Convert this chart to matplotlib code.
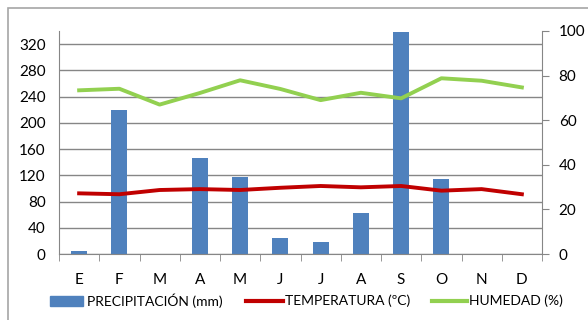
import matplotlib
matplotlib.use("Agg")
import matplotlib.pyplot as plt
from matplotlib.patches import Rectangle
from matplotlib.lines import Line2D
import numpy as np

months = ["E", "F", "M", "A", "M", "J", "J", "A", "S", "O", "N", "D"]
precipitacion = [4, 219, 0, 146, 117, 25, 18, 63, 338, 115, 0, 0]
temperatura = [27.2, 26.8, 28.7, 29.1, 28.7, 29.7, 30.5, 29.9, 30.5, 28.4, 29.1, 26.8]
humedad = [73.4, 74.1, 67.0, 72.2, 77.9, 74.0, 69.0, 72.3, 69.8, 78.8, 77.7, 74.7]
left_ticks = [0, 40, 80, 120, 160, 200, 240, 280, 320]
right_ticks = [0, 20, 40, 60, 80, 100]
labels = ["PRECIPITACIÓN (mm)", "TEMPERATURA (ºC)", "HUMEDAD (%)"]

plt.rcParams["font.family"] = ["Lato", "DejaVu Sans"]
grid_c = "#868686"
bar_c = "#4F81BD"
temp_c = "#C00000"
hum_c = "#92D050"
W, H = 588, 320

fig = plt.figure(figsize=(W / 100, H / 100), dpi=100)
fig.patches.append(Rectangle((8 / W, -0.05), 1.0, 1 - 8 / H + 0.05,
                             transform=fig.transFigure, fill=False,
                             edgecolor="#A6A6A6", linewidth=1.2))

ax = fig.add_axes([59 / W, 1 - 254 / H, (542 - 59) / W, (254 - 31) / H])
x = np.arange(len(months))
ax.bar(x, precipitacion, width=0.4, color=bar_c, zorder=2)
ax.set_xlim(-0.5, 11.5)
ax.set_ylim(0, 340)
ax.set_yticks(left_ticks)
ax.yaxis.grid(True, color=grid_c, linewidth=1.0, zorder=0)
ax.set_axisbelow(True)
ax.set_xticks(x)
ax.set_xticklabels(months)
ax.set_xticks(np.arange(-0.5, 12, 1), minor=True)
ax.tick_params(axis="x", which="major", length=0, pad=14, labelsize=11)
ax.tick_params(axis="x", which="minor", length=5, color=grid_c, direction="out")
ax.tick_params(axis="y", length=0, pad=9.5, labelsize=11)
for s in ["top", "right"]:
    ax.spines[s].set_visible(False)
for s in ["left", "bottom"]:
    ax.spines[s].set_color(grid_c)

ax2 = ax.twinx()
ax2.plot(x, temperatura, color=temp_c, linewidth=2.8, zorder=3)
ax2.plot(x, humedad, color=hum_c, linewidth=2.8, zorder=3)
ax2.set_ylim(0, 100)
ax2.set_yticks(right_ticks)
ax2.tick_params(axis="y", length=5, color=grid_c, pad=7, labelsize=11)
for s in ["top", "left", "bottom"]:
    ax2.spines[s].set_visible(False)
ax2.spines["right"].set_color(grid_c)

# legend row along the bottom
ly = 1 - 301 / H
fig.add_artist(Rectangle((50 / W, 1 - 306 / H), 33 / W, 10 / H,
                         transform=fig.transFigure, color=bar_c))
fig.add_artist(Line2D([246 / W, 283 / W], [ly, ly], transform=fig.transFigure,
                      color=temp_c, linewidth=3))
fig.add_artist(Line2D([432 / W, 467 / W], [ly, ly], transform=fig.transFigure,
                      color=hum_c, linewidth=3))
for tx, lab in zip([87, 285, 469], labels):
    fig.text(tx / W, ly, lab, ha="left", va="center", fontsize=10)

fig.savefig("out.png", dpi=100)
